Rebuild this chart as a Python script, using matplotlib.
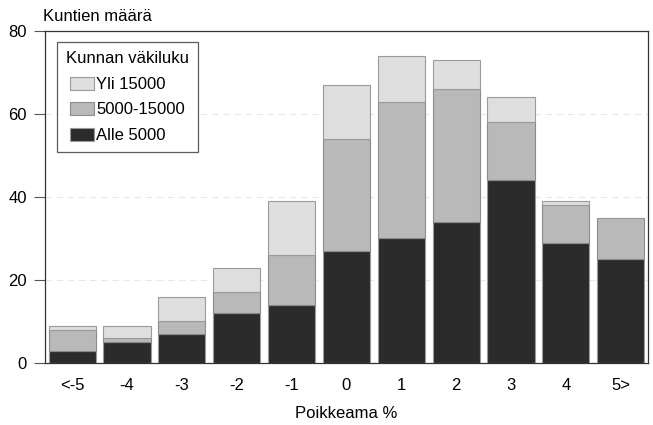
import matplotlib; matplotlib.use("Agg")
import matplotlib.pyplot as plt
import numpy as np

plt.rcParams["font.family"] = ["Liberation Sans Narrow", "Liberation Sans", "DejaVu Sans"]

# data
categories = ["<-5", "-4", "-3", "-2", "-1", "0", "1", "2", "3", "4", "5>"]
alle_5000 = [3, 5, 7, 12, 14, 27, 30, 34, 44, 29, 25]
v5000_15000 = [5, 1, 3, 5, 12, 27, 33, 32, 14, 9, 10]
yli_15000 = [1, 3, 6, 6, 13, 13, 11, 7, 6, 1, 0]
yticks = [0, 20, 40, 60, 80]

fig = plt.figure(figsize=(6.53, 4.25), dpi=100)
ax = fig.add_axes([0.0685, 0.146, 0.924, 0.781])

x = np.arange(len(categories))
w = 0.86
a = np.array(alle_5000); m = np.array(v5000_15000); y = np.array(yli_15000)
ax.bar(x, a, w, color="#2b2b2b", edgecolor="#9a9a9a", lw=0.8, label="Alle 5000", zorder=3)
ax.bar(x, m, w, bottom=a, color="#b9b9b9", edgecolor="#8a8a8a", lw=0.8, label="5000-15000", zorder=3)
ax.bar(x, y, w, bottom=a+m, color="#dedede", edgecolor="#9a9a9a", lw=0.8, label="Yli 15000", zorder=3)

ax.set_xlim(-0.5, 10.5); ax.set_ylim(0, 80)
ax.set_yticks(yticks)
ax.set_xticks(x); ax.set_xticklabels(categories)
ax.tick_params(axis="x", length=0, pad=11, labelsize=12)
ax.tick_params(axis="y", length=8, width=0.8, pad=5, labelsize=12, color="#555555")
for yy in yticks[1:-1]:
    ax.axhline(yy, color="#e8e8e8", lw=0.8, ls=(0, (6, 4)), zorder=1)
for s in ax.spines.values():
    s.set_color("#333333"); s.set_linewidth(0.9)

ax.set_xlabel("Poikkeama %", fontsize=12, labelpad=9)
fig.text(0.066, 0.962, "Kuntien määrä", fontsize=12, ha="left", va="center")

h, l = ax.get_legend_handles_labels()
leg = ax.legend(h[::-1], l[::-1], title="Kunnan väkiluku", loc="upper left",
                bbox_to_anchor=(0.02, 0.966), fontsize=12, title_fontsize=12,
                frameon=True, fancybox=False, edgecolor="#333333",
                handlelength=1.4, handleheight=0.8, handletextpad=0.15,
                labelspacing=0.62, borderpad=0.55, borderaxespad=0)
leg.get_frame().set_linewidth(0.9)

fig.savefig("out.png", dpi=100)
